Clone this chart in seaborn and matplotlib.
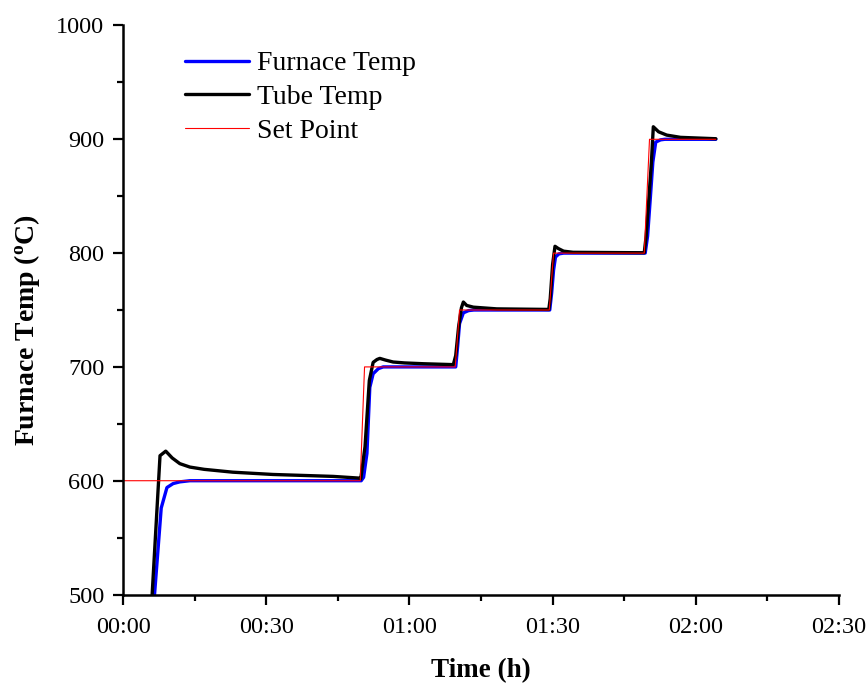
import matplotlib
matplotlib.use("Agg")
import matplotlib.pyplot as plt
from matplotlib.ticker import MultipleLocator, FuncFormatter
import pandas as pd
import seaborn as sns

# Set point programme (time in minutes, temperature in deg C)
setpoint_t = [0, 49.7, 50.6, 69.6, 70.5, 89.3, 90.2, 109.2, 110.3, 124.2]
setpoint_v = [600, 600, 700, 700, 750, 750, 800, 800, 900, 900]

# Furnace thermocouple
furnace_t = [5.9, 6.6, 8.0, 9.2, 10.5, 11.9, 14.0, 30.0, 49.9,
             50.4, 51.1, 51.7, 52.4, 53.5, 54.5, 69.7,
             70.1, 70.5, 71.3, 72.4, 73.5, 89.4,
             89.8, 90.2, 90.6, 91.3, 92.3, 109.4,
             109.9, 110.5, 111.0, 111.6, 112.6, 113.5, 124.2]
furnace_v = [470, 500, 576, 594, 597.5, 599, 600, 600, 600,
             603, 624, 682, 694, 698.5, 700, 700,
             718, 738, 747.5, 749.5, 750, 750,
             765, 785, 796.5, 799.3, 800, 800,
             815, 850, 880, 897.5, 899.5, 900, 900]

# Tube thermocouple
tube_t = [5.5, 6.1, 7.75, 8.95, 10.3, 11.9, 14.0, 17.0, 23.0, 31.4, 44.0, 49.5,
          49.8, 50.7, 51.6, 52.4, 53.2, 53.8, 55.0, 56.6, 59.0, 62.9, 69.2,
          69.7, 70.3, 70.9, 71.3, 72.0, 73.4, 78.3, 89.2,
          89.5, 90.0, 90.5, 91.2, 92.3, 94.3, 109.2,
          109.6, 110.2, 110.7, 111.1, 112.2, 113.9, 116.8, 124.2]
tube_v = [455, 500, 622, 626, 620, 615, 612, 610, 607.5, 605.5, 603.8, 602.3,
          601.5, 630, 688, 704, 706.5, 707.5, 706, 704.3, 703.5, 702.8, 702,
          710, 735, 752, 757, 754, 752.5, 751, 750.5,
          760, 790, 806, 804, 801.7, 800.7, 800.3,
          815, 850, 880, 911, 906.6, 903.7, 901.7, 900.5]

furnace = pd.DataFrame({"t": furnace_t, "T": furnace_v})
tube = pd.DataFrame({"t": tube_t, "T": tube_v})
setpoint = pd.DataFrame({"t": setpoint_t, "T": setpoint_v})

sns.set_style("ticks")
plt.rcParams["font.family"] = ["Liberation Serif", "DejaVu Serif"]
plt.rcParams["mathtext.fontset"] = "custom"
plt.rcParams["mathtext.rm"] = "Liberation Serif"
plt.rcParams["mathtext.bf"] = "Liberation Serif:bold"
plt.rcParams["text.color"] = "black"
plt.rcParams["axes.labelcolor"] = "black"

fig = plt.figure(figsize=(8.67, 6.87), dpi=100)
ax = fig.add_axes([0.1419, 0.1346, 0.8258, 0.8283])

sns.lineplot(data=furnace, x="t", y="T", ax=ax, color="#0000ff", lw=2.4,
             label="Furnace Temp", sort=False, estimator=None)
sns.lineplot(data=tube, x="t", y="T", ax=ax, color="black", lw=2.4,
             label="Tube Temp", sort=False, estimator=None)
sns.lineplot(data=setpoint, x="t", y="T", ax=ax, color="#ff0000", lw=0.8,
             label="Set Point", sort=False, estimator=None)

ax.set_xlim(0, 150)
ax.set_ylim(500, 1000)
ax.xaxis.set_major_locator(MultipleLocator(30))
ax.xaxis.set_minor_locator(MultipleLocator(15))
ax.yaxis.set_major_locator(MultipleLocator(100))
ax.yaxis.set_minor_locator(MultipleLocator(50))
ax.xaxis.set_major_formatter(FuncFormatter(lambda m, _: f"{int(m // 60):02d}:{int(round(m % 60)):02d}"))

for side in ("top", "right"):
    ax.spines[side].set_visible(False)
for side in ("left", "bottom"):
    ax.spines[side].set_linewidth(1.8)
    ax.spines[side].set_color("black")

ax.tick_params(which="major", length=7.5, width=1.6, labelsize=17.5, colors="black")
ax.tick_params(which="minor", length=4, width=1.6, colors="black")
ax.tick_params(axis="x", which="major", pad=9)
ax.tick_params(axis="y", which="major", pad=6)

ax.set_xlabel("Time (h)", fontsize=19.5, fontweight="bold", labelpad=14)
ax.set_ylabel(r"Furnace Temp ($\mathbf{^{o}}$C)", fontsize=20, fontweight="bold")
ax.yaxis.set_label_coords(-0.113, 0.465)

leg = ax.legend(loc="upper left", bbox_to_anchor=(0.071, 0.975), frameon=False,
                fontsize=20, handlelength=2.3, handletextpad=0.3, labelspacing=0.3,
                borderaxespad=0)
for txt in leg.get_texts():
    txt.set_color("black")

fig.savefig("out.png", dpi=100)
